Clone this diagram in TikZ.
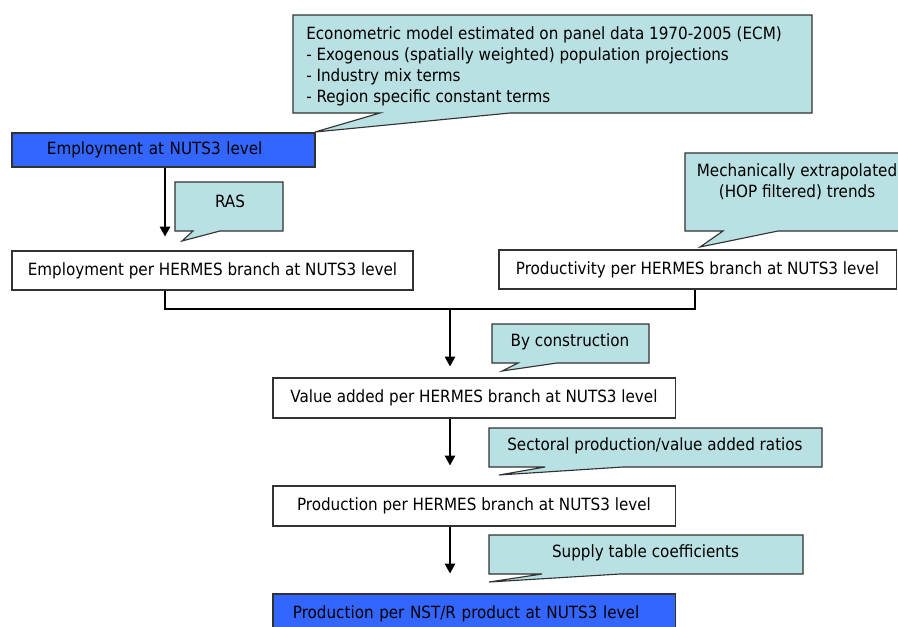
\documentclass[tikz,border=0pt]{standalone}
\usepackage{fontspec}
\setmainfont{DejaVu Sans Condensed}
\usetikzlibrary{arrows.meta}
\definecolor{notefill}{RGB}{185,224,226}
\definecolor{nutsblue}{RGB}{51,102,255}
\definecolor{edgegray}{RGB}{50,50,50}

\begin{document}
\begin{tikzpicture}[x=0.025cm,y=-0.025cm]
\tikzstyle{txt}=[font=\fontsize{12}{15}\selectfont]
\tikzstyle{box}=[txt,rectangle,draw=edgegray,line width=0.8pt,inner sep=0pt,minimum width=10.05cm,minimum height=1cm]
\tikzstyle{bluebox}=[box,fill=nutsblue,inner xsep=0.5cm,align=left,text width=9.05cm]
\tikzstyle{note}=[fill=notefill,draw=edgegray,line width=0.8pt]
\tikzstyle{notetext}=[txt,inner sep=0pt,align=center]
\tikzstyle{arr}=[-{Triangle[length=7pt,width=7.5pt]},line width=0.8pt]
\clip (0,0) rectangle (898,626);

\draw[note] (293,15) -- (812,15) -- (812,113) -- (510,113) -- (315,132) -- (380,113) -- (293,113) -- cycle;
\node[notetext,anchor=north west,align=left] (econ) at (306,26) {Econometric model estimated on panel data 1970-2005 (ECM)\\- Exogenous (spatially weighted) population projections\\- Industry mix terms\\- Region specific constant terms};

\node[bluebox,inner xsep=0.875cm,text width=5.825cm,minimum width=0pt,minimum height=0.85cm] (emp) at (163.5,150) {Employment at NUTS3 level};

\draw[note] (175,182) -- (283,182) -- (283,231) -- (220,231) -- (182,241) -- (193,231) -- (175,231) -- cycle;
\node[notetext] (ras) at (230,201) {RAS};

\draw[note] (685,153) -- (910,153) -- (910,231) -- (778,231) -- (700,247) -- (723,231) -- (685,231) -- cycle;
\node[notetext] (mech) at (797,182) {Mechanically extrapolated\\(HOP filtered) trends};

\node[box,minimum width=10.025cm,minimum height=0.975cm] (emphb) at (212.5,270.5) {Employment per HERMES branch at NUTS3 level};
\node[box,minimum width=9.925cm,minimum height=0.975cm] (prod) at (697.5,269.5) {Productivity per HERMES branch at NUTS3 level};

\coordinate (jl) at (165,309);
\coordinate (jr) at (695,309);
\coordinate (jm) at (450,309);
\draw[arr,shorten >=0.35cm] (emp.south -| jl) -- (emphb.north -| jl);
\draw[line width=0.8pt] (emphb.south -| jl) -- (jl) -- (jr) -- (prod.south -| jr);

\draw[note] (492,324) -- (649,324) -- (649,363) -- (557,363) -- (502,371) -- (518,363) -- (492,363) -- cycle;
\node[notetext] (byc) at (570,342) {By construction};

\node[box] (va) at (474,398) {Value added per HERMES branch at NUTS3 level};
\draw[arr,shorten >=0.275cm] (jm) -- (va.north -| jm);

\draw[note] (489,428) -- (822,428) -- (822,467) -- (623,467) -- (499,475) -- (545,467) -- (489,467) -- cycle;
\node[notetext] (sect) at (655,446) {Sectoral production/value added ratios};

\node[box] (phb) at (474,506) {Production per HERMES branch at NUTS3 level};
\draw[arr,shorten >=0.5cm] (va.south -| jm) -- (phb.north -| jm);

\draw[note] (489,535) -- (803,535) -- (803,574) -- (620,574) -- (489,582) -- (542,574) -- (489,574) -- cycle;
\node[notetext] (supply) at (645.5,553) {Supply table coefficients};

\node[bluebox] (nst) at (474,614) {Production per NST/R product at NUTS3 level};
\draw[arr,shorten >=0.5cm] (phb.south -| jm) -- (nst.north -| jm);
\end{tikzpicture}
\end{document}
